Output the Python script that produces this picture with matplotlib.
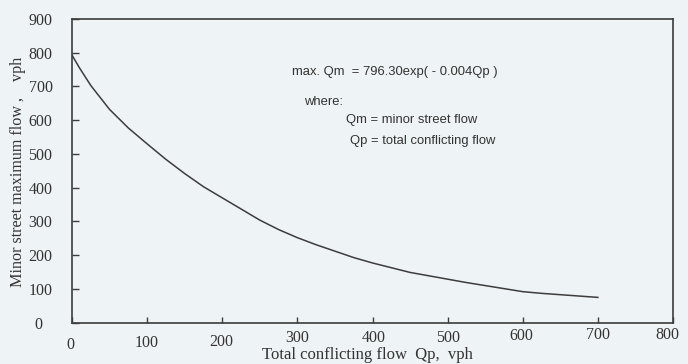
import matplotlib
matplotlib.use("Agg")
import matplotlib.pyplot as plt
from matplotlib.transforms import ScaledTranslation

# Data
qp = [0, 10, 25, 50, 75, 100, 125, 150, 175, 200, 225, 250, 275, 300, 325, 350,
      375, 400, 425, 450, 475, 500, 525, 550, 575, 600, 625, 650, 675, 700]
qm = [793, 755, 703, 632, 577, 530, 484, 442, 403, 370, 337, 304, 276, 252, 231, 212,
      193, 177, 163, 149, 139, 129, 119, 110, 101, 92, 87, 83, 79, 75]
xticks = [0, 100, 200, 300, 400, 500, 600, 700, 800]
yticks = [0, 100, 200, 300, 400, 500, 600, 700, 800, 900]

bg = '#eef3f5'
ink = '#3c3c3c'
serif = ['Liberation Serif', 'DejaVu Serif']
sans = ['Liberation Sans', 'DejaVu Sans']

fig = plt.figure(figsize=(6.88, 3.64), dpi=100, facecolor=bg)
ax = fig.add_axes([72/688, 1-322.7/364, 601/688, (322.7-19)/364])
ax.set_facecolor(bg)

ax.plot(qp, qm, color=ink, lw=1.1)
ax.set_xlim(0, 800)
ax.set_ylim(0, 900)
ax.set_xticks(xticks)
ax.set_yticks(yticks)
ax.set_xticklabels([str(v) for v in xticks], fontfamily=serif, fontsize=11.5, color='#333333')
ax.set_yticklabels([str(v) for v in yticks], fontfamily=serif, fontsize=11.5, color='#333333')
ax.tick_params(axis='x', direction='in', length=4, width=1, colors=ink, labelcolor='#333333', pad=5)
ax.tick_params(axis='y', direction='in', length=5, width=1, colors=ink, labelcolor='#333333', pad=14)
for s in ax.spines.values():
    s.set_color(ink)
    s.set_linewidth(1.2)

# staggered x tick labels as in the scan (offsets in points)
dy = [-5, -4, -3, 0, 0, 0, 1, 2, 2]
dx = [-1, 0, -1, 0, 1, 0, -1, 0, -4]
for lab, oy, ox in zip(ax.get_xticklabels(), dy, dx):
    lab.set_transform(lab.get_transform() + ScaledTranslation(ox/72, oy/72, fig.dpi_scale_trans))
ylab_dx = [-7, 0, 0, 0, 0, 0, 0, 0, 0, 0]
for lab, ox in zip(ax.get_yticklabels(), ylab_dx):
    lab.set_transform(lab.get_transform() + ScaledTranslation(ox/72, 0, fig.dpi_scale_trans))

fig.text(18/688, 1-172/364, 'Minor street maximum flow ,    vph', rotation=90,
         ha='center', va='center', fontfamily=serif, fontsize=11.6, color='#333333')
fig.text(367/688, 1-355/364, 'Total conflicting flow  Qp,  vph',
         ha='center', va='center', fontfamily=serif, fontsize=12, color='#333333')

def tx(x, y, s):
    fig.text(x/688, 1-y/364, s, ha='left', va='center', fontfamily=sans, fontsize=9.4, color='#333333')

tx(292, 72, 'max. Qm  = 796.30exp( - 0.004Qp )')
tx(304, 102, 'where:')
tx(346, 120, 'Qm = minor street flow')
tx(350, 141, 'Qp = total conflicting flow')

fig.savefig('out.png', dpi=100, facecolor=bg)
